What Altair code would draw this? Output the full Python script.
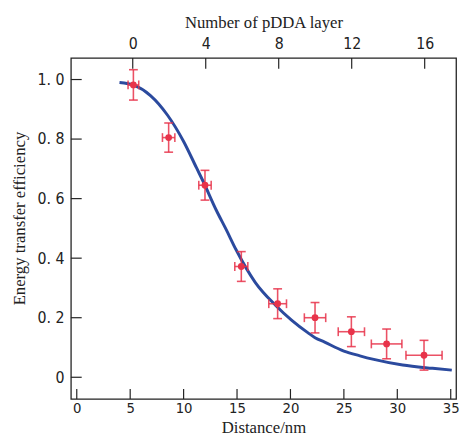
import altair as alt
import pandas as pd

# measured data points
distance = [5.3, 8.6, 12.0, 15.4, 18.8, 22.3, 25.7, 29.0, 32.5]
efficiency = [0.982, 0.805, 0.645, 0.372, 0.247, 0.200, 0.153, 0.112, 0.074]
eff_err = [0.051, 0.049, 0.050, 0.050, 0.050, 0.051, 0.050, 0.050, 0.050]
dist_err = [0.50, 0.58, 0.58, 0.61, 0.83, 1.00, 1.23, 1.43, 1.69]

# fitted curve
curve_d = [4.0, 5.4, 6.9, 8.5, 10.0, 11.2, 11.8, 13.06, 14.0, 14.9, 16.7, 18.6,
           20.1, 21.65, 22.3, 23.2, 25.0, 26.5, 27.8, 30.5, 33.3, 35.1]
curve_e = [0.990, 0.980, 0.946, 0.880, 0.792, 0.704, 0.660, 0.561, 0.495, 0.429,
           0.319, 0.242, 0.192, 0.149, 0.133, 0.118, 0.088, 0.072, 0.060, 0.041,
           0.030, 0.024]

# axis ticks
dist_ticks = [0, 5, 10, 15, 20, 25, 30, 35]
layer_ticks = [0, 4, 8, 12, 16]
eff_ticks = [0, 0.2, 0.4, 0.6, 0.8, 1.0]

W, H = 392, 347
RED = "#e8334a"
BLUE = "#2b4a9e"
NUM_FONT = "Liberation Sans Narrow, DejaVu Sans Condensed, sans-serif"
TXT_FONT = "Liberation Serif, Times New Roman, serif"

pts = pd.DataFrame({"d": distance, "e": efficiency, "ee": eff_err, "de": dist_err})
pts["elo"] = pts["e"] - pts["ee"]
pts["ehi"] = pts["e"] + pts["ee"]
pts["dlo"] = pts["d"] - pts["de"]
pts["dhi"] = pts["d"] + pts["de"]
curve = pd.DataFrame({"d": curve_d, "e": curve_e})

xscale = alt.Scale(domain=[-0.55, 35.5], nice=False, zero=False)
yscale = alt.Scale(domain=[-0.0726, 1.0726], nice=False, zero=False)
tscale = alt.Scale(domain=[-3.39, 17.72], nice=False, zero=False)

xaxis = alt.Axis(title="Distance/nm", values=dist_ticks, ticks=False, domain=False,
                 grid=False, labelPadding=2, titleBaseline="alphabetic", titleY=34,
                 labelFont=NUM_FONT,
                 labelFontSize=15, titleFont=TXT_FONT, titleFontSize=17,
                 titleFontWeight="normal", labelColor="#222", titleColor="#222")
yaxis = alt.Axis(title="Energy transfer efficiency", values=eff_ticks, ticks=False,
                 domain=False, grid=False, labelPadding=7, titlePadding=9, titleY=163,
                 labelFont=NUM_FONT, labelFontSize=16, titleFont=TXT_FONT,
                 titleFontSize=17, titleFontWeight="normal", labelColor="#222",
                 titleColor="#222",
                 labelExpr="datum.value == 0 ? '0' : replace(format(datum.value, '.1f'), '.', '. ')")
taxis = alt.Axis(title="Number of pDDA layer", orient="top", values=layer_ticks,
                 ticks=False, domain=False, grid=False, labelPadding=7, titlePadding=4,
                 labelFont=NUM_FONT, labelFontSize=16, titleFont=TXT_FONT,
                 titleFontSize=17, titleFontWeight="normal", labelColor="#222",
                 titleColor="#222")

line = alt.Chart(curve).mark_line(color=BLUE, strokeWidth=3, interpolate="monotone").encode(
    x=alt.X("d:Q", scale=xscale, axis=xaxis),
    y=alt.Y("e:Q", scale=yscale, axis=yaxis),
)

base = alt.Chart(pts)
ybar = base.mark_rule(color=RED, strokeWidth=1.6, opacity=0.85).encode(
    x="d:Q", y="elo:Q", y2="ehi:Q")
xbar = base.mark_rule(color=RED, strokeWidth=1.6, opacity=0.85).encode(
    x="dlo:Q", x2="dhi:Q", y="e:Q")
ycap_lo = base.mark_tick(color=RED, orient="horizontal", size=9, thickness=1.6, opacity=0.85).encode(
    x="d:Q", y="elo:Q")
ycap_hi = base.mark_tick(color=RED, orient="horizontal", size=9, thickness=1.6, opacity=0.85).encode(
    x="d:Q", y="ehi:Q")
xcap_lo = base.mark_tick(color=RED, orient="vertical", size=9, thickness=1.6, opacity=0.85).encode(
    x="dlo:Q", y="e:Q")
xcap_hi = base.mark_tick(color=RED, orient="vertical", size=9, thickness=1.6, opacity=0.85).encode(
    x="dhi:Q", y="e:Q")
dots = base.mark_circle(color=RED, size=48, opacity=1).encode(x="d:Q", y="e:Q")

bt = alt.Chart(pd.DataFrame({"t": dist_ticks})).mark_rule(color="#222", strokeWidth=1.2).encode(
    x="t:Q", y=alt.value(H), y2=alt.value(H - 10))
lt = alt.Chart(pd.DataFrame({"t": eff_ticks})).mark_rule(color="#222", strokeWidth=1.2).encode(
    y="t:Q", x=alt.value(0), x2=alt.value(11))

main = alt.layer(line, ybar, xbar, ycap_lo, ycap_hi, xcap_lo, xcap_hi, dots, bt, lt)

tt = alt.Chart(pd.DataFrame({"n": layer_ticks})).mark_rule(color="#222", strokeWidth=1.2).encode(
    x=alt.X("n:Q", scale=tscale, axis=taxis), y=alt.value(0), y2=alt.value(11))

chart = alt.layer(main, tt).resolve_scale(x="independent").properties(
    width=W, height=H,
    autosize=alt.AutoSizeParams(type="none"),
    padding={"left": 64, "top": 47, "right": 4, "bottom": 35},
    background="white",
).configure_view(stroke="#222", strokeWidth=1.3)

chart.save("out.html", embed_options={"renderer": "svg", "actions": False})
